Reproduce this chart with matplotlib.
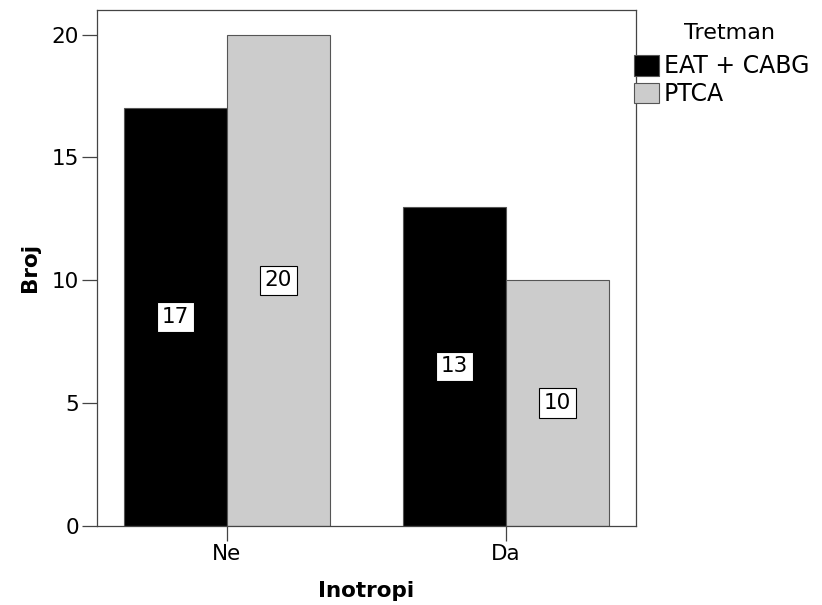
import matplotlib.pyplot as plt
import numpy as np

categories = ["Ne", "Da"]
series_names = ["EAT + CABG", "PTCA"]
eat_cabg = [17, 13]
ptca = [20, 10]
colors = ["#000000", "#cccccc"]

plt.rcParams['font.family'] = ['DejaVu Sans']

fig = plt.figure(figsize=(8.22, 6.05), dpi=100)
ax = fig.add_axes([97/822, 79/605, (636-97)/822, (526-10)/605])

x = np.arange(len(categories))
width = 0.37
handles = []
for i, (vals, col, name) in enumerate(zip([eat_cabg, ptca], colors, series_names)):
    pos = x + (i - 0.5) * width
    b = ax.bar(pos, vals, width, color=col, edgecolor="#555555", linewidth=0.8,
               label=name, zorder=2)
    handles.append(b)
    for p, v in zip(pos, vals):
        ax.text(p, v / 2, str(v), ha="center", va="center", fontsize=15.5,
                bbox=dict(boxstyle="square,pad=0.22", fc="white", ec="black", lw=0.8),
                zorder=3)

ax.set_xlim(-0.465, 1.465)
ax.set_ylim(0, 21)
ax.set_yticks([0, 5, 10, 15, 20])
ax.set_xticks(x)
ax.set_xticklabels(categories)
ax.tick_params(axis="both", labelsize=15.5, length=11, width=0.9, color="#444444", pad=2)
for s in ax.spines.values():
    s.set_color("#444444")
    s.set_linewidth(0.9)

ax.set_ylabel("Broj", fontsize=15.5, fontweight="bold", labelpad=8)
ax.set_xlabel("Inotropi", fontsize=15.5, fontweight="bold", labelpad=12)

leg = fig.legend(handles=handles, labels=series_names, loc="upper left",
                 bbox_to_anchor=(632/822, 1 - 21/605), frameon=False,
                 title="Tretman", fontsize=17, title_fontsize=16,
                 handlelength=1.05, handleheight=0.95, handletextpad=0.2,
                 labelspacing=0.15, borderpad=0.1, borderaxespad=0)
leg._legend_box.align = "left"
leg._legend_box.sep = 8
leg.get_title().set_position((50, 0))

fig.savefig("out.png", dpi=100)
